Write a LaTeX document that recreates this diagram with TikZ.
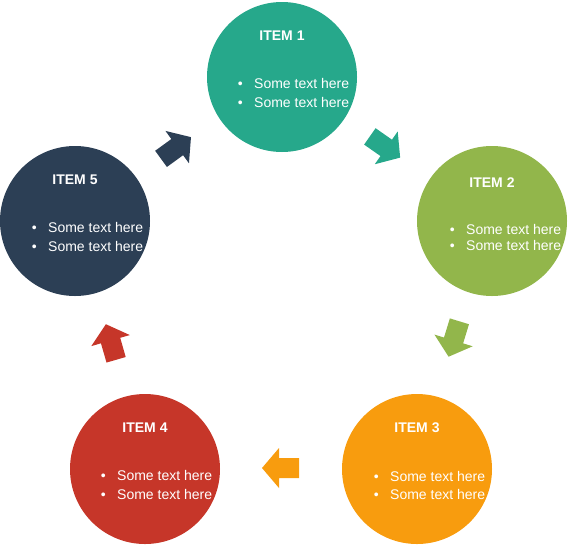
\documentclass[tikz,border=0pt]{standalone}
\usepackage{fontspec}
\setmainfont{Liberation Sans}
\usetikzlibrary{calc}
\definecolor{cteal}{HTML}{26A88B}
\definecolor{cgreen}{HTML}{92B64B}
\definecolor{corange}{HTML}{F89C0E}
\definecolor{cred}{HTML}{C63629}
\definecolor{cdark}{HTML}{2C3F55}
\newcommand{\bul}{\makebox[0pt][r]{•\hspace{11.5pt}}}
\tikzset{
  circ/.style={circle, minimum size=150pt, inner sep=0pt, draw=none},
  ttl/.style={text=white, inner sep=0pt, font=\fontsize{14}{16}\selectfont\bfseries},
  txt/.style={text=white, inner sep=0pt, anchor=west, font=\fontsize{14}{16}\selectfont},
}
\newcommand{\blockarrow}[4]{% color, x, y, angle
  \fill[#1, shift={(#2,#3)}, rotate=#4]
    (-18.5,-10) -- (1.5,-10) -- (1.5,-20) -- (18.5,0) -- (1.5,20) -- (1.5,10) -- (-18.5,10) -- cycle;
}
\begin{document}
\begin{tikzpicture}[x=1pt, y=-1pt]
\useasboundingbox (0,0) rectangle (569,544);
% circles
\node[circ, fill=cteal] (c1) at (282,77) {};
\node[circ, fill=cgreen] (c2) at (492,221) {};
\node[circ, fill=corange] (c3) at (417,469) {};
\node[circ, fill=cred] (c4) at (145,469) {};
\node[circ, fill=cdark] (c5) at (75,221) {};
% item 1
\node[ttl] (t1) at ($(c1)+(0,-41)$) {ITEM 1};
\node[txt] (s1a) at ($(c1)+(-28,6)$) {\bul Some text here};
\node[txt] (s1b) at ($(c1)+(-28,25)$) {\bul Some text here};
% item 2
\node[ttl] (t2) at ($(c2)+(0,-38)$) {ITEM 2};
\node[txt] (s2a) at ($(c2)+(-26,8)$) {\bul Some text here};
\node[txt] (s2b) at ($(c2)+(-26,24)$) {\bul Some text here};
% item 3
\node[ttl] (t3) at ($(c3)+(0,-41)$) {ITEM 3};
\node[txt] (s3a) at ($(c3)+(-27,7)$) {\bul Some text here};
\node[txt] (s3b) at ($(c3)+(-27,25)$) {\bul Some text here};
% item 4
\node[ttl] (t4) at ($(c4)+(0,-41)$) {ITEM 4};
\node[txt] (s4a) at ($(c4)+(-28,6)$) {\bul Some text here};
\node[txt] (s4b) at ($(c4)+(-28,25)$) {\bul Some text here};
% item 5
\node[ttl] (t5) at ($(c5)+(0,-41)$) {ITEM 5};
\node[txt] (s5a) at ($(c5)+(-27,6)$) {\bul Some text here};
\node[txt] (s5b) at ($(c5)+(-27,25)$) {\bul Some text here};
% arrows
\blockarrow{cteal}{385}{147}{-35}
\blockarrow{cgreen}{454}{339}{-107}
\blockarrow{corange}{280.5}{468}{180}
\blockarrow{cred}{111}{342}{106}
\blockarrow{cdark}{176}{148}{36}
\end{tikzpicture}
\end{document}
